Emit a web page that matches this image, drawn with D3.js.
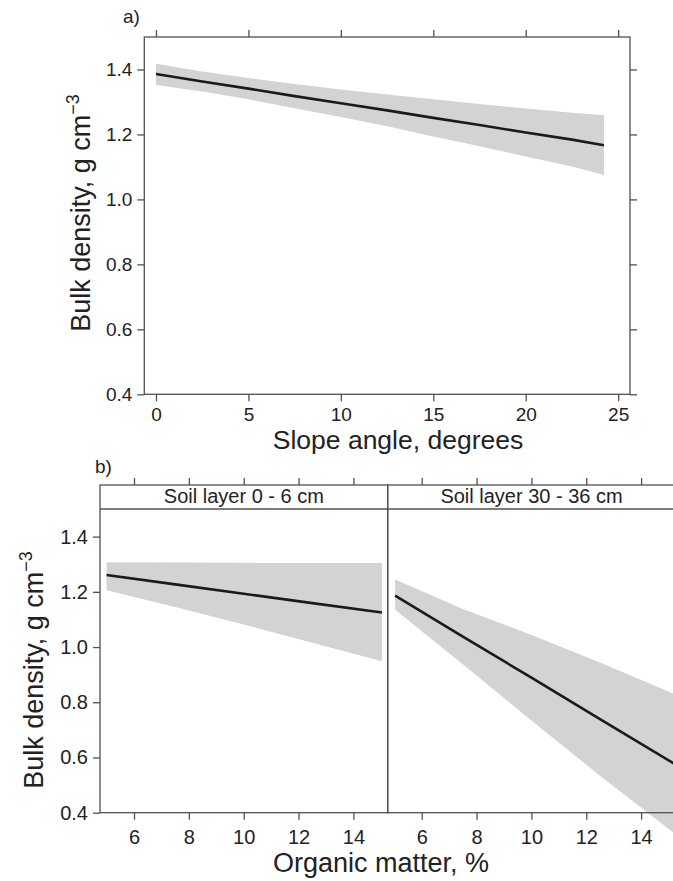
<!DOCTYPE html>
<html>
<head>
<meta charset="utf-8">
<script src="https://cdn.jsdelivr.net/npm/d3@7"></script>
<style>
    body { margin: 0; background: #fff; }
    text { font-family: "Liberation Sans", Arial, Helvetica, sans-serif; fill: #222; }
    .axis path { display: none; }
    .axis line { stroke: #505050; stroke-width: 1.3; }
</style>
</head>
<body>
<div id="chart"></div>
<script>

// panel a: bulk density vs slope angle (fit and confidence band)
const slopeX     = [0, 2.5, 5, 7.5, 10, 12.5, 15, 17.5, 20, 22.5, 24.23];
const slopeFit   = [1.386, 1.363, 1.341, 1.318, 1.296, 1.274, 1.251, 1.229, 1.206, 1.184, 1.167];
const slopeUpper = [1.418, 1.394, 1.374, 1.355, 1.338, 1.323, 1.308, 1.294, 1.280, 1.267, 1.259];
const slopeLower = [1.352, 1.332, 1.308, 1.281, 1.254, 1.225, 1.194, 1.164, 1.132, 1.101, 1.075];

// panel b: bulk density vs organic matter, one set per soil layer
const omX0     = [5, 7.5, 10, 12.5, 15.04];
const omFit0   = [1.261, 1.227, 1.193, 1.159, 1.125];
const omUpper0 = [1.307, 1.306, 1.305, 1.304, 1.304];
const omLower0 = [1.206, 1.145, 1.082, 1.016, 0.949];

const omX30     = [5.03, 7.5, 10, 12.5, 15.2];
const omFit30   = [1.186, 1.038, 0.889, 0.739, 0.578];
const omUpper30 = [1.245, 1.138, 1.044, 0.944, 0.830];
const omLower30 = [1.135, 0.938, 0.734, 0.534, 0.326];

const stripLabels = ["Soil layer 0 - 6 cm", "Soil layer 30 - 36 cm"];

const slopeTicks = [0, 5, 10, 15, 20, 25];
const omTicks = [6, 8, 10, 12, 14];
const densityTicks = [0.4, 0.6, 0.8, 1.0, 1.2, 1.4];

const width = 673, height = 881;

let svg = d3.select("#chart").append("svg")
    .attr("width", width)
    .attr("height", height);

function rows(xs, fit, up, lo) {
    return xs.map((x, i) => ({ x: x, fit: fit[i], up: up[i], lo: lo[i] }));
}

// draws band + line for one panel
function drawFit(g, data, x, y) {
    g.append("path")
        .datum(data)
        .attr("fill", "#d3d3d3")
        .attr("d", d3.area().x(d => x(d.x)).y0(d => y(d.lo)).y1(d => y(d.up)));
    g.append("path")
        .datum(data)
        .attr("fill", "none")
        .attr("stroke", "#1a1a1a")
        .attr("stroke-width", 2.6)
        .attr("d", d3.line().x(d => x(d.x)).y(d => y(d.fit)));
}

function styleTicks(sel, size) {
    sel.selectAll("text").style("font-size", size + "px");
}

function yTitle(x, y) {
    let t = svg.append("text")
        .attr("transform", "translate(" + x + "," + y + ") rotate(-90)")
        .attr("text-anchor", "middle")
        .style("font-size", "27px");
    t.append("tspan").text("Bulk density, g cm");
    t.append("tspan").text("\u22123").attr("dy", -11).style("font-size", "18px");
}

/* ---------- panel a ---------- */
let xA = d3.scaleLinear().domain([-0.633, 25.64]).range([144.3, 630]);
let yA = d3.scaleLinear().domain([0.4, 1.5]).range([394.3, 37]);

drawFit(svg.append("g"), rows(slopeX, slopeFit, slopeUpper, slopeLower), xA, yA);

svg.append("rect")
    .attr("x", xA.range()[0]).attr("y", yA.range()[1])
    .attr("width", xA.range()[1] - xA.range()[0])
    .attr("height", yA.range()[0] - yA.range()[1])
    .attr("fill", "none").attr("stroke", "#505050").attr("stroke-width", 1.3);

svg.append("g").attr("class", "axis")
    .attr("transform", "translate(0," + yA.range()[0] + ")")
    .call(d3.axisBottom(xA).tickValues(slopeTicks).tickSize(7).tickPadding(6))
    .call(styleTicks, 19);
svg.append("g").attr("class", "axis")
    .attr("transform", "translate(0," + yA.range()[1] + ")")
    .call(d3.axisTop(xA).tickValues(slopeTicks).tickSize(7).tickFormat(""));
svg.append("g").attr("class", "axis")
    .attr("transform", "translate(" + xA.range()[0] + ",0)")
    .call(d3.axisLeft(yA).tickValues(densityTicks).tickSize(7).tickPadding(5).tickFormat(d3.format(".1f")))
    .call(styleTicks, 19);
svg.append("g").attr("class", "axis")
    .attr("transform", "translate(" + xA.range()[1] + ",0)")
    .call(d3.axisRight(yA).tickValues(densityTicks).tickSize(7).tickFormat(""));

svg.append("text").attr("x", 123).attr("y", 23).style("font-size", "19px").text("a)");
svg.append("text").attr("x", 398).attr("y", 449)
    .attr("text-anchor", "middle").style("font-size", "26.5px")
    .text("Slope angle, degrees");
yTitle(90, 213);

/* ---------- panel b ---------- */
let stripTop = 485, stripBottom = 509;
let yB = d3.scaleLinear().domain([0.4, 1.5]).range([812.7, stripBottom]);
let omDomain = [4.76, 15.25];
let xB = [
    d3.scaleLinear().domain(omDomain).range([100, 387.7]),
    d3.scaleLinear().domain(omDomain).range([387.7, 675.4])
];
let fitsB = [
    rows(omX0, omFit0, omUpper0, omLower0),
    rows(omX30, omFit30, omUpper30, omLower30)
];

xB.forEach((x, i) => {
    let g = svg.append("g");
    drawFit(g, fitsB[i], x, yB);

    // panel box incl. strip
    g.append("rect")
        .attr("x", x.range()[0]).attr("y", stripTop)
        .attr("width", x.range()[1] - x.range()[0])
        .attr("height", yB.range()[0] - stripTop)
        .attr("fill", "none").attr("stroke", "#505050").attr("stroke-width", 1.3);
    g.append("line")
        .attr("x1", x.range()[0]).attr("x2", x.range()[1])
        .attr("y1", stripBottom).attr("y2", stripBottom)
        .attr("stroke", "#505050").attr("stroke-width", 1.3);
    g.append("text")
        .attr("x", d3.mean(x.range())).attr("y", 503.3)
        .attr("text-anchor", "middle").style("font-size", "20px")
        .text(stripLabels[i]);

    svg.append("g").attr("class", "axis")
        .attr("transform", "translate(0," + yB.range()[0] + ")")
        .call(d3.axisBottom(x).tickValues(omTicks).tickSize(7).tickPadding(10))
        .call(styleTicks, 20);
    svg.append("g").attr("class", "axis")
        .attr("transform", "translate(0," + stripTop + ")")
        .call(d3.axisTop(x).tickValues(omTicks).tickSize(7).tickFormat(""));
});

svg.append("g").attr("class", "axis")
    .attr("transform", "translate(" + xB[0].range()[0] + ",0)")
    .call(d3.axisLeft(yB).tickValues(densityTicks).tickSize(7).tickPadding(5).tickFormat(d3.format(".1f")))
    .call(styleTicks, 20);

svg.append("text").attr("x", 95).attr("y", 473).style("font-size", "19px").text("b)");
svg.append("text").attr("x", 381).attr("y", 871.5)
    .attr("text-anchor", "middle").style("font-size", "27px")
    .text("Organic matter, %");
yTitle(43, 670);

</script>
</body>
</html>
